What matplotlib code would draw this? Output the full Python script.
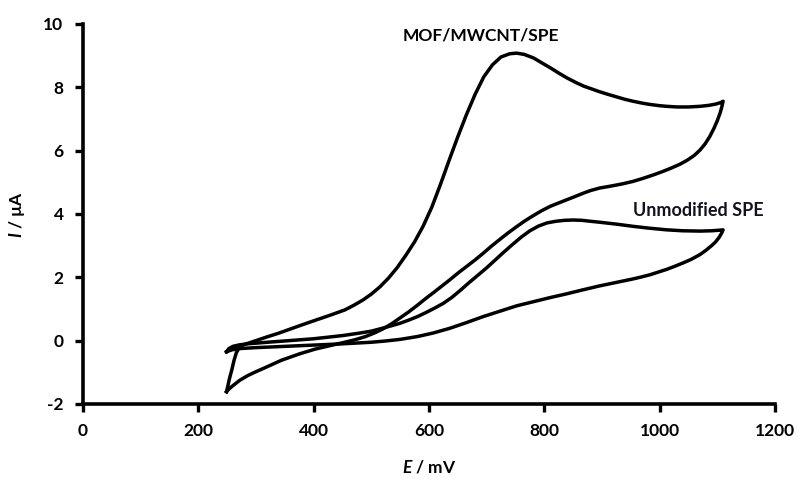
import matplotlib
matplotlib.use("Agg")
from matplotlib import pyplot as plt

# MOF/MWCNT/SPE - forward scan then reverse scan (E in mV, I in uA)
mof_E = [249, 251, 254, 258, 262, 266, 271, 280, 295, 316, 340, 360, 380, 399,
         428, 454, 470, 486, 500, 515, 530, 545, 560, 575, 590, 605, 620, 635,
         650, 665, 680, 695, 710, 725, 740, 752, 765, 781, 795, 810, 825, 839,
         855, 868, 882, 896, 910, 925, 940, 954, 970, 983, 1000, 1012, 1030,
         1050, 1070, 1085, 1097, 1106, 1110,
         1108, 1105, 1100, 1094, 1087, 1079, 1070, 1060, 1048, 1035, 1020,
         1005, 990, 972, 954, 935, 915, 896, 880, 868, 853, 839, 825, 810, 795,
         781, 766, 752, 737, 723, 708, 694, 680, 665, 650, 636, 622, 608, 595,
         580, 565, 550, 535, 520, 505, 490, 472, 454, 430, 402, 375, 344, 315,
         300, 286, 272, 260, 253, 249]
mof_I = [-1.61, -1.45, -1.2, -0.93, -0.62, -0.38, -0.22, -0.12, -0.03, 0.1,
         0.24, 0.37, 0.5, 0.62, 0.8, 0.97, 1.12, 1.29, 1.47, 1.7, 1.98, 2.31,
         2.7, 3.12, 3.62, 4.22, 4.94, 5.7, 6.44, 7.14, 7.78, 8.33, 8.71, 8.96,
         9.06, 9.08, 9.04, 8.93, 8.78, 8.62, 8.45, 8.3, 8.15, 8.04, 7.95, 7.86,
         7.78, 7.7, 7.62, 7.56, 7.5, 7.46, 7.42, 7.4, 7.38, 7.38, 7.4, 7.43,
         7.47, 7.52, 7.56,
         7.4, 7.2, 6.95, 6.7, 6.45, 6.22, 6.02, 5.85, 5.7, 5.57, 5.45, 5.34,
         5.24, 5.13, 5.03, 4.95, 4.88, 4.82, 4.74, 4.66, 4.55, 4.45, 4.35,
         4.24, 4.1, 3.95, 3.78, 3.6, 3.4, 3.2, 2.98, 2.76, 2.55, 2.34, 2.13,
         1.92, 1.72, 1.52, 1.34, 1.12, 0.91, 0.72, 0.53, 0.37, 0.24, 0.13,
         0.03, -0.05, -0.15, -0.27, -0.42, -0.62, -0.86, -0.98, -1.1, -1.25,
         -1.42, -1.53, -1.61]

# Unmodified SPE
spe_E = [249, 253, 260, 272, 286, 320, 350, 400, 450, 480, 500, 525, 550, 565,
         580, 595, 610, 625, 640, 655, 670, 685, 700, 715, 730, 745, 760, 775,
         790, 805, 820, 835, 850, 865, 880, 896, 925, 954, 983, 1012, 1040,
         1070, 1090, 1105, 1110,
         1107, 1103, 1097, 1090, 1080, 1070, 1055, 1040, 1025, 1012, 995, 983,
         968, 954, 925, 896, 868, 839, 810, 781, 752, 723, 694, 665, 636, 607,
         580, 550, 525, 500, 450, 400, 350, 300, 272, 258, 249]
spe_I = [-0.35, -0.25, -0.18, -0.13, -0.1, -0.05, -0.01, 0.06, 0.16, 0.24,
         0.3, 0.42, 0.55, 0.65, 0.76, 0.89, 1.03, 1.18, 1.37, 1.6, 1.84, 2.07,
         2.3, 2.55, 2.8, 3.04, 3.27, 3.47, 3.62, 3.72, 3.77, 3.8, 3.81, 3.8,
         3.77, 3.74, 3.68, 3.61, 3.55, 3.5, 3.47, 3.46, 3.47, 3.49, 3.5,
         3.38, 3.26, 3.12, 3.0, 2.85, 2.72, 2.57, 2.45, 2.34, 2.25, 2.15, 2.08,
         2.01, 1.95, 1.84, 1.73, 1.61, 1.48, 1.36, 1.23, 1.1, 0.93, 0.76,
         0.57, 0.39, 0.24, 0.13, 0.04, -0.01, -0.05, -0.1, -0.14, -0.18,
         -0.22, -0.25, -0.29, -0.35]

x_ticks = [0, 200, 400, 600, 800, 1000, 1200]
y_ticks = [-2, 0, 2, 4, 6, 8, 10]

plt.rcParams['font.family'] = ['Lato', 'DejaVu Sans']
plt.rcParams['font.weight'] = 'bold'
plt.rcParams['axes.unicode_minus'] = False
plt.rcParams['mathtext.fontset'] = 'custom'
plt.rcParams['mathtext.it'] = 'Lato:italic:bold'
plt.rcParams['mathtext.rm'] = 'Lato:bold'

fig = plt.figure(figsize=(7.97, 4.79), dpi=100)
ax = fig.add_axes([0.1041, 0.1566, 0.8683, 0.7933])

ax.plot(mof_E, mof_I, color='black', lw=2.5, solid_joinstyle='round')
ax.plot(spe_E, spe_I, color='black', lw=2.5, solid_joinstyle='round')

ax.text(690, 9.65, 'MOF/MWCNT/SPE', ha='center', va='center',
        fontsize=12.5, fontweight='bold')
ax.text(1067, 4.1, 'Unmodified SPE', ha='center', va='center',
        fontsize=13, fontweight='bold', color='#111122')

ax.set_xlim(0, 1200)
ax.set_ylim(-2, 10)
ax.set_xticks(x_ticks)
ax.set_yticks(y_ticks)
ax.tick_params(direction='out', length=6, width=2.4, labelsize=12.5, pad=8)
for s in ['top', 'right']:
    ax.spines[s].set_visible(False)
for s in ['left', 'bottom']:
    ax.spines[s].set_linewidth(2.6)

ax.set_xlabel(r'$\mathit{E}$ / mV', fontsize=12.5, fontweight='bold', labelpad=14)
ax.set_ylabel(r'$\mathit{I}$ / µA', fontsize=12.5, fontweight='bold', labelpad=12)

fig.savefig('out.png', dpi=100)
